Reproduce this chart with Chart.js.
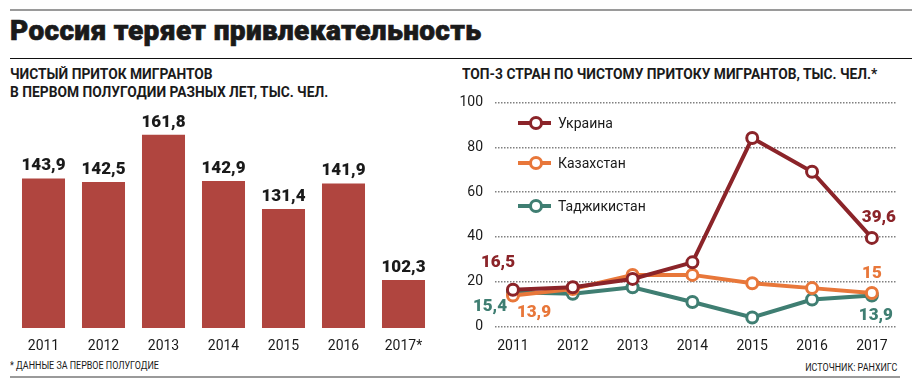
<!DOCTYPE html>
<html>
<head>
<meta charset="utf-8">
<script src="https://cdn.jsdelivr.net/npm/chart.js@4"></script>
<style>
  body { margin: 0; width: 912px; height: 387px; background: #fff; position: relative; overflow: hidden;
         font-family: "Roboto", sans-serif; color: #1a1a1a; }
  .abs { position: absolute; }
  .rule-gray { left: 10px; right: 0; height: 2px; background: #9a9a9a; }
  .rule-black { left: 10px; right: 0; height: 1px; background: #111; }
  #title { left: 10px; top: 14px; font-weight: 900; font-size: 28px; letter-spacing: 0.35px;
           -webkit-text-stroke: 0.7px #1a1a1a; white-space: nowrap; }
  .sub { font-weight: bold; font-size: 15.5px; line-height: 17.5px; white-space: nowrap;
         transform: scaleX(0.89); transform-origin: left top; }
  .small { font-size: 10.5px; white-space: nowrap; transform: scaleX(0.85); }
</style>
</head>
<body>
<div class="abs rule-gray" style="top:9px"></div>
<div class="abs" id="title">Россия теряет привлекательность</div>
<div class="abs rule-black" style="top:58px"></div>
<div class="abs sub" style="left:10px; top:66px">ЧИСТЫЙ ПРИТОК МИГРАНТОВ<br>В ПЕРВОМ ПОЛУГОДИИ РАЗНЫХ ЛЕТ, ТЫС. ЧЕЛ.</div>
<div class="abs sub" style="left:462px; top:66px">ТОП-3 СТРАН ПО ЧИСТОМУ ПРИТОКУ МИГРАНТОВ, ТЫС. ЧЕЛ.*</div>
<div class="abs small" style="left:10px; top:359px; transform-origin: left top">* ДАННЫЕ ЗА ПЕРВОЕ ПОЛУГОДИЕ</div>
<div class="abs small" style="right:15px; top:361px; transform-origin: right top">ИСТОЧНИК: РАНХИГС</div>
<div class="abs rule-gray" style="top:376px; right:12px"></div>

<div class="abs" style="left:0; top:100px; width:450px; height:260px"><canvas id="barChart"></canvas></div>
<div class="abs" style="left:455px; top:82px; width:457px; height:270px"><canvas id="lineChart"></canvas></div>

<script>
// ---- data ----
const barYears = ["2011", "2012", "2013", "2014", "2015", "2016", "2017*"];
const inflow = [143.9, 142.5, 161.8, 142.9, 131.4, 141.9, 102.3];

const years = [2011, 2012, 2013, 2014, 2015, 2016, 2017];
const ukraine = [16.5, 17.6, 21.3, 28.7, 84.1, 69.1, 39.6];
const kazakhstan = [13.9, 16.8, 23.1, 23.1, 19.4, 17.2, 15];
const tajikistan = [15.4, 14.7, 17.6, 11.0, 4.1, 12.1, 13.9];
const countries = ["Украина", "Казахстан", "Таджикистан"];
const yTicks = [0, 20, 40, 60, 80, 100];

const fmt = v => String(v).replace(".", ",");
const labelFont = '900 17px "Roboto", sans-serif';
const tickFont = { family: '"Roboto", sans-serif', size: 14 };

/********** LEFT: BARS **********/
const barValueLabels = {
  id: "barValueLabels",
  afterDatasetsDraw(chart) {
    const ctx = chart.ctx;
    ctx.save();
    ctx.font = labelFont;
    ctx.fillStyle = "#1a1a1a";
    ctx.textAlign = "center";
    ctx.textBaseline = "bottom";
    chart.getDatasetMeta(0).data.forEach((bar, i) => {
      ctx.fillText(fmt(inflow[i]), bar.x, bar.y - 4);
    });
    ctx.restore();
  }
};

new Chart(document.getElementById("barChart"), {
  type: "bar",
  data: {
    labels: barYears,
    datasets: [{ data: inflow, backgroundColor: "#b0453f", barPercentage: 0.717, categoryPercentage: 1 }]
  },
  options: {
    responsive: true, maintainAspectRatio: false, animation: false,
    layout: { padding: { top: 10, left: 13.5, right: 16.5 } },
    plugins: { legend: { display: false }, tooltip: { enabled: false } },
    scales: {
      x: {
        grid: { display: false }, border: { display: false },
        ticks: { color: "#1a1a1a", font: tickFont, padding: 2 },
        afterFit: s => { s.height = 32; }
      },
      y: { display: false, min: 82.6, max: 172 }
    }
  },
  plugins: [barValueLabels]
});

/********** RIGHT: LINES **********/
const colors = ["#8b2429", "#e8773a", "#3f7e72"];
// which point gets a number, and where it sits relative to the point
const pointLabels = [
  { ds: 0, idx: 0, dx: -15, dy: -27 },
  { ds: 2, idx: 0, dx: -23, dy: 15 },
  { ds: 1, idx: 0, dx: 21, dy: 17 },
  { ds: 0, idx: 6, dx: 7, dy: -20 },
  { ds: 1, idx: 6, dx: 0, dy: -19 },
  { ds: 2, idx: 6, dx: 4, dy: 20 }
];
const legendRows = [41, 81, 124];

const lineExtras = {
  id: "lineExtras",
  afterDatasetsDraw(chart) {
    const ctx = chart.ctx;
    ctx.save();
    ctx.font = labelFont;
    ctx.textAlign = "center";
    ctx.textBaseline = "middle";
    pointLabels.forEach(p => {
      const el = chart.getDatasetMeta(p.ds).data[p.idx];
      const v = chart.data.datasets[p.ds].data[p.idx].y;
      ctx.fillStyle = colors[p.ds];
      ctx.fillText(fmt(v), el.x + p.dx, el.y + p.dy);
    });
    // legend
    legendRows.forEach((y, i) => {
      ctx.strokeStyle = colors[i];
      ctx.lineWidth = 4;
      ctx.beginPath(); ctx.moveTo(63, y); ctx.lineTo(96, y); ctx.stroke();
      ctx.fillStyle = "#fff";
      ctx.lineWidth = 3;
      ctx.beginPath(); ctx.arc(81, y, 5.5, 0, Math.PI * 2); ctx.fill(); ctx.stroke();
      ctx.fillStyle = "#1a1a1a";
      ctx.font = '14px "Roboto", sans-serif';
      ctx.textAlign = "left";
      ctx.fillText(countries[i], 103, y + 1);
    });
    ctx.restore();
  }
};

const series = [ukraine, kazakhstan, tajikistan];
new Chart(document.getElementById("lineChart"), {
  type: "line",
  data: {
    datasets: series.map((vals, i) => ({
      label: countries[i],
      data: vals.map((v, j) => ({ x: years[j], y: v })),
      borderColor: colors[i],
      borderWidth: 4,
      pointRadius: 5.5,
      pointBorderWidth: 3,
      pointBackgroundColor: "#fff",
      pointBorderColor: colors[i],
      tension: 0
    }))
  },
  options: {
    responsive: true, maintainAspectRatio: false, animation: false,
    layout: { padding: { top: 2, right: 15 } },
    plugins: { legend: { display: false }, tooltip: { enabled: false } },
    scales: {
      x: {
        type: "linear", min: 2010.7, max: 2017.42,
        afterBuildTicks: s => { s.ticks = years.map(v => ({ value: v })); },
        grid: { display: false }, border: { display: false },
        ticks: { color: "#1a1a1a", font: tickFont, padding: 3, callback: v => String(v) },
        afterFit: s => { s.height = 25.3; }
      },
      y: {
        min: 0, max: 100,
        afterBuildTicks: s => { s.ticks = yTicks.map(v => ({ value: v })); },
        grid: { color: "#808080", lineWidth: 1.5, drawTicks: false },
        border: { display: false, dash: [1.5, 1.5] },
        ticks: { color: "#1a1a1a", font: tickFont, padding: 12 },
        afterFit: s => { s.width = 40; }
      }
    }
  },
  plugins: [lineExtras]
});
</script>
</body>
</html>
